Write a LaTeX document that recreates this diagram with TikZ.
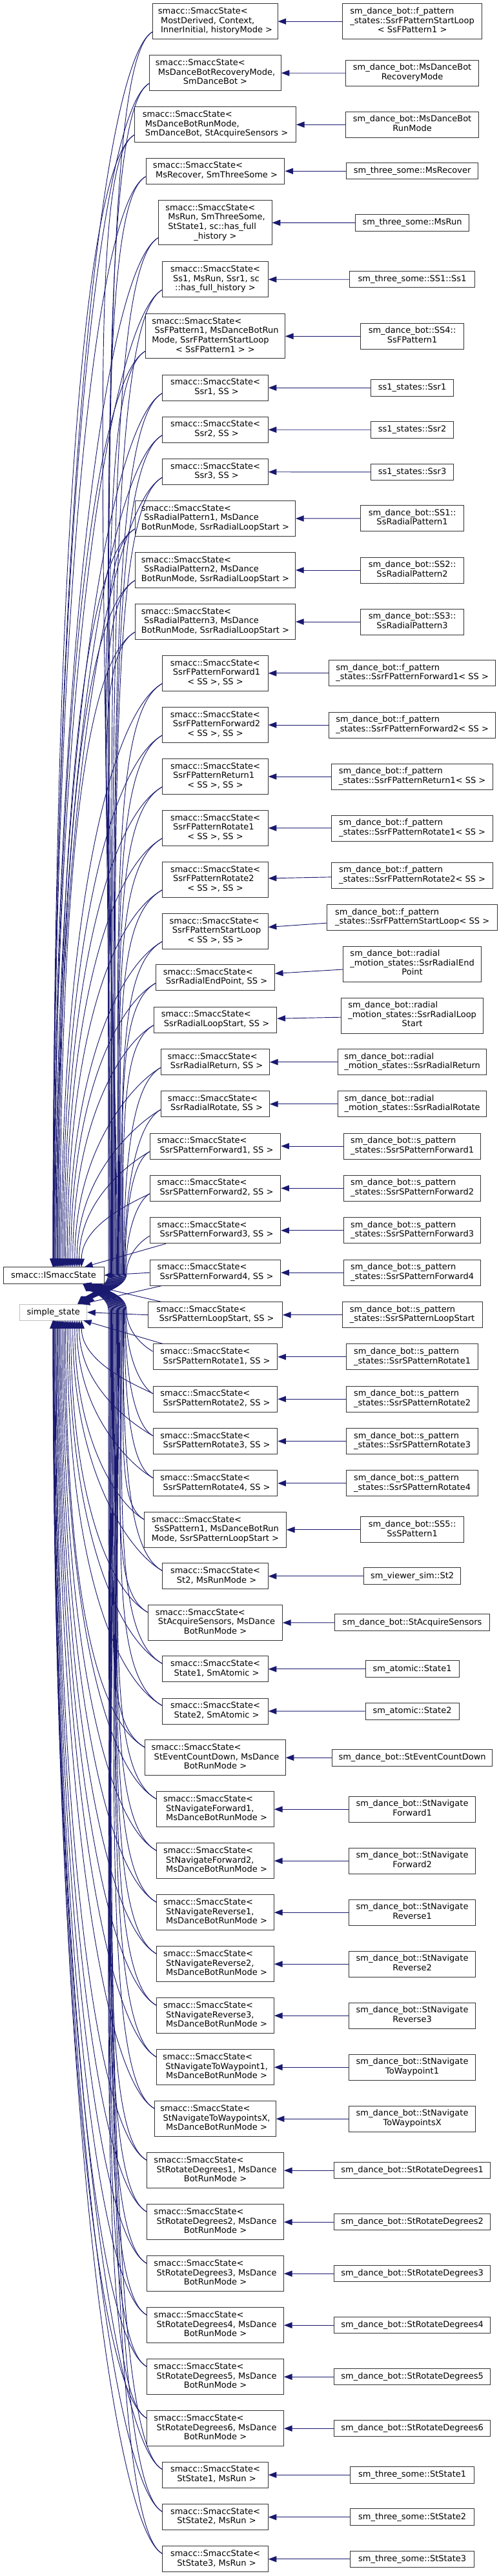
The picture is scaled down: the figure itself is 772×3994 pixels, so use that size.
\documentclass[tikz,border=0pt]{standalone}
\usepackage{fontspec}
\setmainfont{DejaVu Sans}
\usetikzlibrary{arrows.meta,calc}
\definecolor{mnb}{HTML}{191970}
\newcommand\Lbl[2]{\begin{tabular}{@{}l@{}}#1\multicolumn{1}{@{}c@{}}{#2}\end{tabular}}
\newcommand\MidNode[5]{\node[cbox,minimum width=#3*0.75pt,minimum height=#4*0.75pt] (#1) at (333.5,#2) {#5};}
\newcommand\RightNode[5]{\node[cbox,minimum width=#3*0.75pt,minimum height=#4*0.75pt] (#1) at (638.6,#2) {#5};}
\begin{document}
\begin{tikzpicture}[x=0.75pt,y=-0.75pt,
 cbox/.style={draw=black!80,line width=0.75pt,fill=white,inner sep=0pt,font=\fontsize{9.75}{10.9}\selectfont},
 sbox/.style={cbox,draw=black!25},
 inhline/.style={draw=mnb,line width=0.7pt,-{Triangle[length=9.5pt,width=7pt]}}]
\useasboundingbox (0,0) rectangle (772,3994);
% bases
\node[cbox,minimum width=156*0.75pt,minimum height=25.7*0.75pt] (I) at (83,1977.2) {smacc::ISmaccState};
\node[sbox,minimum width=104*0.75pt,minimum height=25.3*0.75pt] (ss) at (82.7,2034.7) {simple\_state};
% middle column
\MidNode{m1}{33.2}{193.1}{55}{\Lbl{smacc::SmaccState<\\\ MostDerived, Context,\\}{\ InnerInitial, historyMode >}}
\MidNode{m2}{113.2}{203.5}{55}{\Lbl{smacc::SmaccState<\\\ MsDanceBotRecoveryMode,\\}{SmDanceBot >}}
\MidNode{m3}{193.2}{250}{55}{\Lbl{smacc::SmaccState<\\\ MsDanceBotRunMode,\\}{\ SmDanceBot, StAcquireSensors >}}
\MidNode{m4}{265.3}{214.9}{40}{\Lbl{smacc::SmaccState<\\}{\ MsRecover, SmThreeSome >}}
\MidNode{m5}{345.3}{175.2}{69.3}{\Lbl{smacc::SmaccState<\\\ MsRun, SmThreeSome,\\\ StState1, sc::has\_full\\}{\_history >}}
\MidNode{m6}{433.2}{163.4}{55}{\Lbl{smacc::SmaccState<\\\ Ss1, MsRun, Ssr1, sc\\}{::has\_full\_history >}}
\MidNode{m7}{521.3}{215.8}{69.3}{\Lbl{smacc::SmaccState<\\\ SsFPattern1, MsDanceBotRun\\Mode, SsrFPatternStartLoop\\}{< SsFPattern1 > >}}
\MidNode{m8}{601.2}{163.4}{40}{\Lbl{smacc::SmaccState<\\}{\ Ssr1, SS >}}
\MidNode{m9}{666.3}{163.4}{40}{\Lbl{smacc::SmaccState<\\}{\ Ssr2, SS >}}
\MidNode{m10}{731.7}{163.4}{40}{\Lbl{smacc::SmaccState<\\}{\ Ssr3, SS >}}
\MidNode{m11}{804}{248}{55}{\Lbl{smacc::SmaccState<\\\ SsRadialPattern1, MsDance\\}{BotRunMode, SsrRadialLoopStart >}}
\MidNode{m12}{884}{248}{55}{\Lbl{smacc::SmaccState<\\\ SsRadialPattern2, MsDance\\}{BotRunMode, SsrRadialLoopStart >}}
\MidNode{m13}{964}{248}{55}{\Lbl{smacc::SmaccState<\\\ SsRadialPattern3, MsDance\\}{BotRunMode, SsrRadialLoopStart >}}
\MidNode{m14}{1043.8}{163.4}{55}{\Lbl{smacc::SmaccState<\\\ SsrFPatternForward1\\}{< SS >, SS >}}
\MidNode{m15}{1124}{163.4}{55}{\Lbl{smacc::SmaccState<\\\ SsrFPatternForward2\\}{< SS >, SS >}}
\MidNode{m16}{1204}{163.4}{55}{\Lbl{smacc::SmaccState<\\\ SsrFPatternReturn1\\}{< SS >, SS >}}
\MidNode{m17}{1283.8}{163.4}{55}{\Lbl{smacc::SmaccState<\\\ SsrFPatternRotate1\\}{< SS >, SS >}}
\MidNode{m18}{1363.8}{163.4}{55}{\Lbl{smacc::SmaccState<\\\ SsrFPatternRotate2\\}{< SS >, SS >}}
\MidNode{m19}{1443.8}{163.4}{55}{\Lbl{smacc::SmaccState<\\\ SsrFPatternStartLoop\\}{< SS >, SS >}}
\MidNode{m20}{1515.8}{183.7}{40}{\Lbl{smacc::SmaccState<\\}{\ SsrRadialEndPoint, SS >}}
\MidNode{m21}{1581.2}{190.6}{40}{\Lbl{smacc::SmaccState<\\}{\ SsrRadialLoopStart, SS >}}
\MidNode{m22}{1646.7}{167.8}{40}{\Lbl{smacc::SmaccState<\\}{\ SsrRadialReturn, SS >}}
\MidNode{m23}{1711.8}{167.8}{40}{\Lbl{smacc::SmaccState<\\}{\ SsrRadialRotate, SS >}}
\MidNode{m24}{1777}{202.5}{40}{\Lbl{smacc::SmaccState<\\}{\ SsrSPatternForward1, SS >}}
\MidNode{m25}{1842.3}{202.5}{40}{\Lbl{smacc::SmaccState<\\}{\ SsrSPatternForward2, SS >}}
\MidNode{m26}{1907.8}{202.5}{40}{\Lbl{smacc::SmaccState<\\}{\ SsrSPatternForward3, SS >}}
\MidNode{m27}{1973.2}{202.5}{40}{\Lbl{smacc::SmaccState<\\}{\ SsrSPatternForward4, SS >}}
\MidNode{m28}{2038.7}{207.9}{40}{\Lbl{smacc::SmaccState<\\}{\ SsrSPatternLoopStart, SS >}}
\MidNode{m29}{2103.8}{192.6}{40}{\Lbl{smacc::SmaccState<\\}{\ SsrSPatternRotate1, SS >}}
\MidNode{m30}{2169.2}{192.6}{40}{\Lbl{smacc::SmaccState<\\}{\ SsrSPatternRotate2, SS >}}
\MidNode{m31}{2234.5}{192.6}{40}{\Lbl{smacc::SmaccState<\\}{\ SsrSPatternRotate3, SS >}}
\MidNode{m32}{2299.8}{192.6}{40}{\Lbl{smacc::SmaccState<\\}{\ SsrSPatternRotate4, SS >}}
\MidNode{m33}{2371.8}{219.8}{55}{\Lbl{smacc::SmaccState<\\\ SsSPattern1, MsDanceBotRun\\}{Mode, SsrSPatternLoopStart >}}
\MidNode{m34}{2443.8}{163.4}{40}{\Lbl{smacc::SmaccState<\\}{\ St2, MsRunMode >}}
\MidNode{m35}{2516}{207.9}{55}{\Lbl{smacc::SmaccState<\\\ StAcquireSensors, MsDance\\}{BotRunMode >}}
\MidNode{m36}{2587.8}{163.4}{40}{\Lbl{smacc::SmaccState<\\}{\ State1, SmAtomic >}}
\MidNode{m37}{2653}{163.4}{40}{\Lbl{smacc::SmaccState<\\}{\ State2, SmAtomic >}}
\MidNode{m38}{2725.2}{217.3}{55}{\Lbl{smacc::SmaccState<\\\ StEventCountDown, MsDance\\}{BotRunMode >}}
\MidNode{m39}{2805.2}{181.7}{55}{\Lbl{smacc::SmaccState<\\\ StNavigateForward1,\\}{\ MsDanceBotRunMode >}}
\MidNode{m40}{2885.2}{181.7}{55}{\Lbl{smacc::SmaccState<\\\ StNavigateForward2,\\}{\ MsDanceBotRunMode >}}
\MidNode{m41}{2965.2}{181.7}{55}{\Lbl{smacc::SmaccState<\\\ StNavigateReverse1,\\}{\ MsDanceBotRunMode >}}
\MidNode{m42}{3045.2}{181.7}{55}{\Lbl{smacc::SmaccState<\\\ StNavigateReverse2,\\}{\ MsDanceBotRunMode >}}
\MidNode{m43}{3125.2}{181.7}{55}{\Lbl{smacc::SmaccState<\\\ StNavigateReverse3,\\}{\ MsDanceBotRunMode >}}
\MidNode{m44}{3205.2}{181.7}{55}{\Lbl{smacc::SmaccState<\\\ StNavigateToWaypoint1,\\}{\ MsDanceBotRunMode >}}
\MidNode{m45}{3285.2}{187.6}{55}{\Lbl{smacc::SmaccState<\\\ StNavigateToWaypointsX,\\}{\ MsDanceBotRunMode >}}
\MidNode{m46}{3365.2}{211.9}{55}{\Lbl{smacc::SmaccState<\\\ StRotateDegrees1, MsDance\\}{BotRunMode >}}
\MidNode{m47}{3445.2}{211.9}{55}{\Lbl{smacc::SmaccState<\\\ StRotateDegrees2, MsDance\\}{BotRunMode >}}
\MidNode{m48}{3525.2}{211.9}{55}{\Lbl{smacc::SmaccState<\\\ StRotateDegrees3, MsDance\\}{BotRunMode >}}
\MidNode{m49}{3605.2}{211.9}{55}{\Lbl{smacc::SmaccState<\\\ StRotateDegrees4, MsDance\\}{BotRunMode >}}
\MidNode{m50}{3685.2}{211.9}{55}{\Lbl{smacc::SmaccState<\\\ StRotateDegrees5, MsDance\\}{BotRunMode >}}
\MidNode{m51}{3765.2}{211.9}{55}{\Lbl{smacc::SmaccState<\\\ StRotateDegrees6, MsDance\\}{BotRunMode >}}
\MidNode{m52}{3837.2}{163.4}{40}{\Lbl{smacc::SmaccState<\\}{\ StState1, MsRun >}}
\MidNode{m53}{3902.7}{163.4}{40}{\Lbl{smacc::SmaccState<\\}{\ StState2, MsRun >}}
\MidNode{m54}{3967.8}{163.4}{40}{\Lbl{smacc::SmaccState<\\}{\ StState3, MsRun >}}
% right column
\RightNode{r1}{33.2}{216.3}{55}{\Lbl{sm\_dance\_bot::f\_pattern\\\_states::SsrFPatternStartLoop\\}{< SsFPattern1 >}}
\RightNode{r2}{113.3}{206.4}{40}{\Lbl{sm\_dance\_bot::MsDanceBot\\}{RecoveryMode}}
\RightNode{r3}{193.2}{206.4}{40}{\Lbl{sm\_dance\_bot::MsDanceBot\\}{RunMode}}
\RightNode{r4}{265.3}{204}{25.3}{sm\_three\_some::MsRecover}
\RightNode{r5}{345.5}{175.7}{25.6}{sm\_three\_some::MsRun}
\RightNode{r6}{433.3}{193.6}{25.3}{sm\_three\_some::SS1::Ss1}
\RightNode{r7}{521.3}{159.9}{40}{\Lbl{sm\_dance\_bot::SS4::\\}{SsFPattern1}}
\RightNode{r8}{601.2}{128.7}{25.7}{ss1\_states::Ssr1}
\RightNode{r9}{666.2}{128.7}{25.7}{ss1\_states::Ssr2}
\RightNode{r10}{731.9}{128.7}{25.7}{ss1\_states::Ssr3}
\RightNode{r11}{803.8}{159.9}{40}{\Lbl{sm\_dance\_bot::SS1::\\}{SsRadialPattern1}}
\RightNode{r12}{884}{159.9}{40}{\Lbl{sm\_dance\_bot::SS2::\\}{SsRadialPattern2}}
\RightNode{r13}{964}{159.9}{40}{\Lbl{sm\_dance\_bot::SS3::\\}{SsRadialPattern3}}
\RightNode{r14}{1043.8}{258.4}{40}{\Lbl{sm\_dance\_bot::f\_pattern\\}{\_states::SsrFPatternForward1< SS >}}
\RightNode{r15}{1124}{258.4}{40}{\Lbl{sm\_dance\_bot::f\_pattern\\}{\_states::SsrFPatternForward2< SS >}}
\RightNode{r16}{1204}{249.5}{40}{\Lbl{sm\_dance\_bot::f\_pattern\\}{\_states::SsrFPatternReturn1< SS >}}
\RightNode{r17}{1284}{249.5}{40}{\Lbl{sm\_dance\_bot::f\_pattern\\}{\_states::SsrFPatternRotate1< SS >}}
\RightNode{r18}{1357.2}{249.5}{40}{\Lbl{sm\_dance\_bot::f\_pattern\\}{\_states::SsrFPatternRotate2< SS >}}
\RightNode{r19}{1422.7}{264.4}{40}{\Lbl{sm\_dance\_bot::f\_pattern\\}{\_states::SsrFPatternStartLoop< SS >}}
\RightNode{r20}{1494.5}{213.4}{55}{\Lbl{sm\_dance\_bot::radial\\\_motion\_states::SsrRadialEnd\\}{Point}}
\RightNode{r21}{1574.5}{220.3}{55}{\Lbl{sm\_dance\_bot::radial\\\_motion\_states::SsrRadialLoop\\}{Start}}
\RightNode{r22}{1646.7}{230.2}{40}{\Lbl{sm\_dance\_bot::radial\\}{\_motion\_states::SsrRadialReturn}}
\RightNode{r23}{1711.8}{230.2}{40}{\Lbl{sm\_dance\_bot::radial\\}{\_motion\_states::SsrRadialRotate}}
\RightNode{r24}{1777}{212.4}{40}{\Lbl{sm\_dance\_bot::s\_pattern\\}{\_states::SsrSPatternForward1}}
\RightNode{r25}{1842.3}{212.4}{40}{\Lbl{sm\_dance\_bot::s\_pattern\\}{\_states::SsrSPatternForward2}}
\RightNode{r26}{1907.8}{212.4}{40}{\Lbl{sm\_dance\_bot::s\_pattern\\}{\_states::SsrSPatternForward3}}
\RightNode{r27}{1973.2}{212.4}{40}{\Lbl{sm\_dance\_bot::s\_pattern\\}{\_states::SsrSPatternForward4}}
\RightNode{r28}{2038.7}{216.8}{40}{\Lbl{sm\_dance\_bot::s\_pattern\\}{\_states::SsrSPatternLoopStart}}
\RightNode{r29}{2103.8}{203.5}{40}{\Lbl{sm\_dance\_bot::s\_pattern\\}{\_states::SsrSPatternRotate1}}
\RightNode{r30}{2169.2}{203.5}{40}{\Lbl{sm\_dance\_bot::s\_pattern\\}{\_states::SsrSPatternRotate2}}
\RightNode{r31}{2234.5}{203.5}{40}{\Lbl{sm\_dance\_bot::s\_pattern\\}{\_states::SsrSPatternRotate3}}
\RightNode{r32}{2299.8}{203.5}{40}{\Lbl{sm\_dance\_bot::s\_pattern\\}{\_states::SsrSPatternRotate4}}
\RightNode{r33}{2371.8}{159.9}{40}{\Lbl{sm\_dance\_bot::SS5::\\}{SsSPattern1}}
\RightNode{r34}{2443.8}{150.5}{25.7}{sm\_viewer\_sim::St2}
\RightNode{r35}{2515.8}{240.1}{26.3}{sm\_dance\_bot::StAcquireSensors}
\RightNode{r36}{2587.8}{145}{25.7}{sm\_atomic::State1}
\RightNode{r37}{2653.3}{145}{25.7}{sm\_atomic::State2}
\RightNode{r38}{2725.2}{248}{25.7}{sm\_dance\_bot::StEventCountDown}
\RightNode{r39}{2805.2}{196}{40}{\Lbl{sm\_dance\_bot::StNavigate\\}{Forward1}}
\RightNode{r40}{2885.2}{196}{40}{\Lbl{sm\_dance\_bot::StNavigate\\}{Forward2}}
\RightNode{r41}{2965.2}{196}{40}{\Lbl{sm\_dance\_bot::StNavigate\\}{Reverse1}}
\RightNode{r42}{3045.2}{196}{40}{\Lbl{sm\_dance\_bot::StNavigate\\}{Reverse2}}
\RightNode{r43}{3125.2}{196}{40}{\Lbl{sm\_dance\_bot::StNavigate\\}{Reverse3}}
\RightNode{r44}{3205.2}{196}{40}{\Lbl{sm\_dance\_bot::StNavigate\\}{ToWaypoint1}}
\RightNode{r45}{3285.2}{196}{40}{\Lbl{sm\_dance\_bot::StNavigate\\}{ToWaypointsX}}
\RightNode{r46}{3365.2}{242.6}{25.3}{sm\_dance\_bot::StRotateDegrees1}
\RightNode{r47}{3445.2}{242.6}{25.3}{sm\_dance\_bot::StRotateDegrees2}
\RightNode{r48}{3525.2}{242.6}{25.3}{sm\_dance\_bot::StRotateDegrees3}
\RightNode{r49}{3605.2}{242.6}{25.3}{sm\_dance\_bot::StRotateDegrees4}
\RightNode{r50}{3685.2}{242.6}{25.3}{sm\_dance\_bot::StRotateDegrees5}
\RightNode{r51}{3765.2}{242.6}{25.3}{sm\_dance\_bot::StRotateDegrees6}
\RightNode{r52}{3837.2}{192.1}{25.7}{sm\_three\_some::StState1}
\RightNode{r53}{3902.7}{192.1}{25.7}{sm\_three\_some::StState2}
\RightNode{r54}{3967.8}{192.1}{25.7}{sm\_three\_some::StState3}
% right -> middle
\foreach \i in {1,...,54}{
 \draw[inhline] ($(r\i.west)!0.4!(r\i.west|-m\i.east)$) -- ($(m\i.east)!0.3!(m\i.east|-r\i.west)$);
}
% upper middle nodes -> bases
\foreach \i/\ym/\h in {1/33.2/55,2/113.2/55,3/193.2/55,4/265.3/40,5/345.3/69.3,6/433.2/55,7/521.3/69.3,8/601.2/40,9/666.3/40,10/731.7/40,11/804/55,12/884/55,13/964/55,14/1043.8/55,15/1124/55,16/1204/55,17/1283.8/55,18/1363.8/55,19/1443.8/55,20/1515.8/40,21/1581.2/40,22/1646.7/40,23/1711.8/40,24/1777/40,25/1842.3/40,26/1907.8/40}{
 \pgfmathsetmacro\mySy{\ym+\h/2-12}
 \pgfmathsetmacro\myU{(\i-1)/25}
 \pgfmathsetmacro\myDA{1964.3-\mySy}
 \pgfmathsetmacro\myF{min(1,\myDA/600)}
 \pgfmathsetmacro\myKa{80*\myF}
 \pgfmathsetmacro\myKb{45*\myF}
 \pgfmathsetmacro\myCA{0.6*\myDA}
 \pgfmathsetmacro\myTA{82+48*\myU*\myU}
 \pgfmathsetmacro\myCB{0.6*(1975-\mySy)}
 \pgfmathsetmacro\myXM{168+28*\myU}
 \pgfmathsetmacro\myTB{120+14*\myU}
 \ifnum\i<26
  \draw[inhline] ($(m\i.south west)+(0,-12)$) .. controls +(-\myKa,\myKb) and +(0,-\myCA) .. (\myTA,1964.3);
 \fi
 \draw[inhline] ($(m\i.south west)+(0,-12)$) .. controls +(-\myKa,\myKb) and +(0,-\myCB) .. (\myXM,1975) .. controls +(0,22) and +(14,-14) .. (\myTB,2022);
}
% lower middle nodes -> bases
\foreach \i/\ym/\h in {29/2103.8/40,30/2169.2/40,31/2234.5/40,32/2299.8/40,33/2371.8/55,34/2443.8/40,35/2516/55,36/2587.8/40,37/2653/40,38/2725.2/55,39/2805.2/55,40/2885.2/55,41/2965.2/55,42/3045.2/55,43/3125.2/55,44/3205.2/55,45/3285.2/55,46/3365.2/55,47/3445.2/55,48/3525.2/55,49/3605.2/55,50/3685.2/55,51/3765.2/55,52/3837.2/40,53/3902.7/40,54/3967.8/40}{
 \pgfmathsetmacro\mySy{\ym-\h/2+12}
 \pgfmathsetmacro\myU{(54-\i)/25}
 \pgfmathsetmacro\myDA{\mySy-2047.3}
 \pgfmathsetmacro\myF{min(1,\myDA/600)}
 \pgfmathsetmacro\myKa{80*\myF}
 \pgfmathsetmacro\myKb{45*\myF}
 \pgfmathsetmacro\myCA{0.6*\myDA}
 \pgfmathsetmacro\myTA{82+48*\myU*\myU}
 \pgfmathsetmacro\myCB{0.6*(\mySy-2032)}
 \pgfmathsetmacro\myXM{168+28*\myU}
 \pgfmathsetmacro\myTB{128+28*\myU}
 \ifnum\i>29
  \draw[inhline] ($(m\i.north west)+(0,12)$) .. controls +(-\myKa,-\myKb) and +(0,\myCA) .. (\myTA,2047.3);
 \fi
 \draw[inhline] ($(m\i.north west)+(0,12)$) .. controls +(-\myKa,-\myKb) and +(0,\myCB) .. (\myXM,2032) .. controls +(0,-22) and +(14,14) .. (\myTB,1990);
}
% nearby special edges
\coordinate (t26) at (131,1964.3);
\coordinate (t27) at (126.7,2022);
\coordinate (t28) at (129,1990);
\coordinate (t29) at (129,2047.3);
\draw[inhline] ($(m26.south west)+(25,0)$) -- (t26);
\draw[inhline] (m27.west) -- (I.east);
\draw[inhline] ($(m27.south west)+(18,0)$) -- (t27);
\draw[inhline] (m28.west) -- (ss.east);
\draw[inhline] ($(m28.north west)+(20,0)$) -- (t28);
\draw[inhline] ($(m29.north west)+(15,0)$) -- (t29);
\end{tikzpicture}
\end{document}
